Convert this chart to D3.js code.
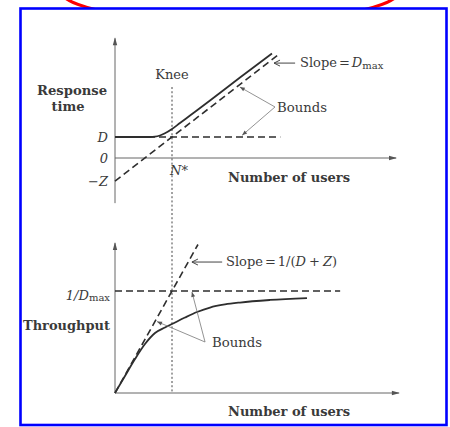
<!DOCTYPE html>
<html>
<head>
<meta charset="utf-8">
<script src="https://cdn.jsdelivr.net/npm/d3@7"></script>
<style>
  html, body { margin: 0; padding: 0; background: #fff; }
  svg { display: block; }
  text { font-family: "DejaVu Serif", "Liberation Serif", serif; fill: #3a3a3a; }
</style>
</head>
<body>
<div id="chart"></div>
<script>
// ---- model parameters (schematic units) ----
const demandD = 1;          // service demand D
const thinkZ = 1.1;         // think time Z
const demandMax = 0.21;     // bottleneck demand Dmax (response slope)
const kneeUsers = 10;       // N*
const throughputMax = 1;    // 1/Dmax
const throughputSlope = 0.1; // 1/(D+Z)

// response time vs number of users
const responseUsers = [0, 6.14, 7.02, 7.89, 8.77, 10, 11.4, 13.16, 16.67, 21.93, 27.54];
const responseValues = [1, 1, 1.014, 1.071, 1.176, 1.381, 1.667, 2.024, 2.738, 3.833, 4.976];

// throughput vs number of users
const throughputUsers = [0, 1.75, 3.51, 5.26, 7.02, 8.77, 10, 12.28, 14.39, 16.67, 19.3, 21.93, 27.19, 33.68];
const throughputValues = [0, 0.167, 0.333, 0.48, 0.588, 0.642, 0.676, 0.74, 0.794, 0.838, 0.868, 0.887, 0.912, 0.931];

// axis tick labels on the response time axis
const rtTickLabels = ["D", "0", "\u2212Z"];
const rtTickValues = [demandD, 0, -thinkZ];

// extents of the bound lines (users)
const responseBoundEnd = 29;
const flatBoundEnd = 29;
const throughputSlopeEnd = 14.56;
const throughputFlatEnd = 39.5;

const W = 450, H = 427;
const svg = d3.select("#chart").append("svg")
  .attr("width", W).attr("height", H)
  .attr("viewBox", `0 0 ${W} ${H}`);

// frame decoration
svg.append("ellipse")
  .attr("cx", 230).attr("cy", -10).attr("rx", 170).attr("ry", 32)
  .attr("fill", "none").attr("stroke", "#ff0000").attr("stroke-width", 3);
svg.append("rect")
  .attr("x", 20.5).attr("y", 8.5).attr("width", 426).attr("height", 416.5)
  .attr("fill", "#fff").attr("stroke", "#0000ff").attr("stroke-width", 2.6);

const defs = svg.append("defs");
defs.append("marker")
  .attr("id", "axisArrow").attr("viewBox", "-8 -4 10 8")
  .attr("markerUnits", "userSpaceOnUse")
  .attr("markerWidth", 10).attr("markerHeight", 8)
  .attr("orient", "auto")
  .append("path").attr("d", "M-7,-2.2L1,0L-7,2.2Z").attr("fill", "#555");
defs.append("marker")
  .attr("id", "openArrow").attr("viewBox", "-8 -5 10 10")
  .attr("markerUnits", "userSpaceOnUse")
  .attr("markerWidth", 10).attr("markerHeight", 10)
  .attr("orient", "auto")
  .append("path").attr("d", "M-6,-3L0,0L-6,3")
  .attr("fill", "none").attr("stroke", "#444").attr("stroke-width", 1);
defs.append("marker")
  .attr("id", "smallArrow").attr("viewBox", "-8 -4 10 8")
  .attr("markerUnits", "userSpaceOnUse")
  .attr("markerWidth", 10).attr("markerHeight", 8)
  .attr("orient", "auto")
  .append("path").attr("d", "M-5,-2L0,0L-5,2Z").attr("fill", "#555");

// ---- scales ----
const x = d3.scaleLinear().domain([0, 50]).range([115, 400]);
const yTop = d3.scaleLinear().domain([0, 1]).range([158, 137]);
const yBot = d3.scaleLinear().domain([0, throughputMax]).range([393, 291]);

const axisColor = "#666";
const curveColor = "#2e2e2e";

function axisLine(x1, y1, x2, y2) {
  svg.append("line")
    .attr("x1", x1).attr("y1", y1).attr("x2", x2).attr("y2", y2)
    .attr("stroke", axisColor).attr("stroke-width", 1)
    .attr("marker-end", "url(#axisArrow)");
}

// ---- response time panel ----
axisLine(x(0), yTop(-2.15), x(0), yTop(5.7));
axisLine(x(0), yTop(0), x(49.3), yTop(0));

// knee marker spanning both panels
svg.append("line")
  .attr("x1", x(kneeUsers)).attr("x2", x(kneeUsers))
  .attr("y1", yTop(3.38)).attr("y2", yBot(0))
  .attr("stroke", "#444").attr("stroke-width", 1)
  .attr("stroke-dasharray", "2,2.2");

const dash = "7,4";
// bounds
svg.append("line")
  .attr("x1", x(0)).attr("y1", yTop(demandD))
  .attr("x2", x(flatBoundEnd)).attr("y2", yTop(demandD))
  .attr("stroke", curveColor).attr("stroke-width", 1.6)
  .attr("stroke-dasharray", dash);
svg.append("line")
  .attr("x1", x(0)).attr("y1", yTop(-thinkZ))
  .attr("x2", x(responseBoundEnd)).attr("y2", yTop(demandMax * responseBoundEnd - thinkZ))
  .attr("stroke", curveColor).attr("stroke-width", 1.6)
  .attr("stroke-dasharray", dash);

const responseLine = d3.line()
  .x((d, i) => x(responseUsers[i]))
  .y((d, i) => yTop(responseValues[i]))
  .curve(d3.curveMonotoneX);
svg.append("path")
  .attr("d", responseLine(responseUsers))
  .attr("fill", "none").attr("stroke", curveColor).attr("stroke-width", 1.8);

// tick labels
rtTickLabels.forEach((lab, i) => {
  svg.append("text")
    .attr("x", 108).attr("y", yTop(rtTickValues[i]) + 5)
    .attr("text-anchor", "end")
    .attr("font-style", "italic").attr("font-size", 13)
    .text(lab);
});
svg.append("text")
  .attr("x", x(kneeUsers) - 2).attr("y", 175)
  .attr("font-style", "italic").attr("font-size", 13)
  .text("N*");
svg.append("text")
  .attr("x", x(kneeUsers)).attr("y", 79)
  .attr("text-anchor", "middle").attr("font-size", 13)
  .text("Knee");

svg.append("text")
  .attr("x", 72).attr("y", 95).attr("text-anchor", "middle")
  .attr("font-weight", "bold").attr("font-size", 13)
  .attr("textLength", 70).attr("lengthAdjust", "spacingAndGlyphs")
  .text("Response");
svg.append("text")
  .attr("x", 68).attr("y", 111).attr("text-anchor", "middle")
  .attr("font-weight", "bold").attr("font-size", 13)
  .text("time");

svg.append("text")
  .attr("x", 228).attr("y", 182)
  .attr("font-weight", "bold").attr("font-size", 12)
  .attr("textLength", 122).attr("lengthAdjust", "spacingAndGlyphs")
  .text("Number of users");

// slope annotation
svg.append("line")
  .attr("x1", x(31.6)).attr("y1", yTop(4.52))
  .attr("x2", x(27.9)).attr("y2", yTop(4.52))
  .attr("stroke", "#444").attr("stroke-width", 1)
  .attr("marker-end", "url(#openArrow)");
const slopeTop = svg.append("text").attr("x", 300).attr("y", 67).attr("font-size", 13);
slopeTop.append("tspan").text("Slope");
slopeTop.append("tspan").attr("dx", 2).text("=");
slopeTop.append("tspan").attr("dx", 2).attr("font-style", "italic").text("D");
slopeTop.append("tspan").attr("font-size", 10).attr("dy", 2).text("max");

// bounds annotation
const vTop = [28.07, 2.43];
[[21.9, 3.38], [22.3, 1.08]].forEach(p => {
  svg.append("line")
    .attr("x1", x(vTop[0])).attr("y1", yTop(vTop[1]))
    .attr("x2", x(p[0])).attr("y2", yTop(p[1]))
    .attr("stroke", "#777").attr("stroke-width", 0.8)
    .attr("marker-end", "url(#smallArrow)");
});
svg.append("text")
  .attr("x", 277).attr("y", 112).attr("font-size", 13)
  .attr("textLength", 50).attr("lengthAdjust", "spacingAndGlyphs")
  .text("Bounds");

// ---- throughput panel ----
axisLine(x(0), yBot(0), x(0), yBot(1.47));
axisLine(x(0), yBot(0), x(49.8), yBot(0));

svg.append("line")
  .attr("x1", x(0)).attr("y1", yBot(throughputMax))
  .attr("x2", x(throughputFlatEnd)).attr("y2", yBot(throughputMax))
  .attr("stroke", curveColor).attr("stroke-width", 1.6)
  .attr("stroke-dasharray", dash);
svg.append("line")
  .attr("x1", x(0)).attr("y1", yBot(0))
  .attr("x2", x(throughputSlopeEnd)).attr("y2", yBot(throughputSlope * throughputSlopeEnd))
  .attr("stroke", curveColor).attr("stroke-width", 1.6)
  .attr("stroke-dasharray", dash);

const throughputLine = d3.line()
  .x((d, i) => x(throughputUsers[i]))
  .y((d, i) => yBot(throughputValues[i]))
  .curve(d3.curveMonotoneX);
svg.append("path")
  .attr("d", throughputLine(throughputUsers))
  .attr("fill", "none").attr("stroke", curveColor).attr("stroke-width", 1.8);

const dmaxLabel = svg.append("text").attr("x", 110).attr("y", 300)
  .attr("text-anchor", "end").attr("font-size", 13);
dmaxLabel.append("tspan").attr("font-style", "italic").text("1/D");
dmaxLabel.append("tspan").attr("font-size", 10).attr("dy", 1).text("max");

svg.append("text")
  .attr("x", 23).attr("y", 330)
  .attr("font-weight", "bold").attr("font-size", 13)
  .attr("textLength", 87).attr("lengthAdjust", "spacingAndGlyphs")
  .text("Throughput");

svg.append("text")
  .attr("x", 228).attr("y", 416)
  .attr("font-weight", "bold").attr("font-size", 12)
  .attr("textLength", 122).attr("lengthAdjust", "spacingAndGlyphs")
  .text("Number of users");

svg.append("line")
  .attr("x1", x(18.8)).attr("y1", yBot(1.284))
  .attr("x2", x(13.5)).attr("y2", yBot(1.284))
  .attr("stroke", "#444").attr("stroke-width", 1)
  .attr("marker-end", "url(#openArrow)");
const slopeBot = svg.append("text").attr("x", 226).attr("y", 266).attr("font-size", 13);
slopeBot.append("tspan").text("Slope");
slopeBot.append("tspan").attr("dx", 2).text("=");
slopeBot.append("tspan").attr("dx", 2).text("1/(");
slopeBot.append("tspan").attr("font-style", "italic").text("D");
slopeBot.append("tspan").attr("dx", 3).text("+");
slopeBot.append("tspan").attr("dx", 3).attr("font-style", "italic").text("Z");
slopeBot.append("tspan").text(")");

const vBot = [15.8, 0.5];
[[13.5, 0.99], [7.37, 0.70]].forEach(p => {
  svg.append("line")
    .attr("x1", x(vBot[0])).attr("y1", yBot(vBot[1]))
    .attr("x2", x(p[0])).attr("y2", yBot(p[1]))
    .attr("stroke", "#777").attr("stroke-width", 0.8)
    .attr("marker-end", "url(#smallArrow)");
});
svg.append("text")
  .attr("x", 212).attr("y", 347).attr("font-size", 13)
  .attr("textLength", 50).attr("lengthAdjust", "spacingAndGlyphs")
  .text("Bounds");
</script>
</body>
</html>
